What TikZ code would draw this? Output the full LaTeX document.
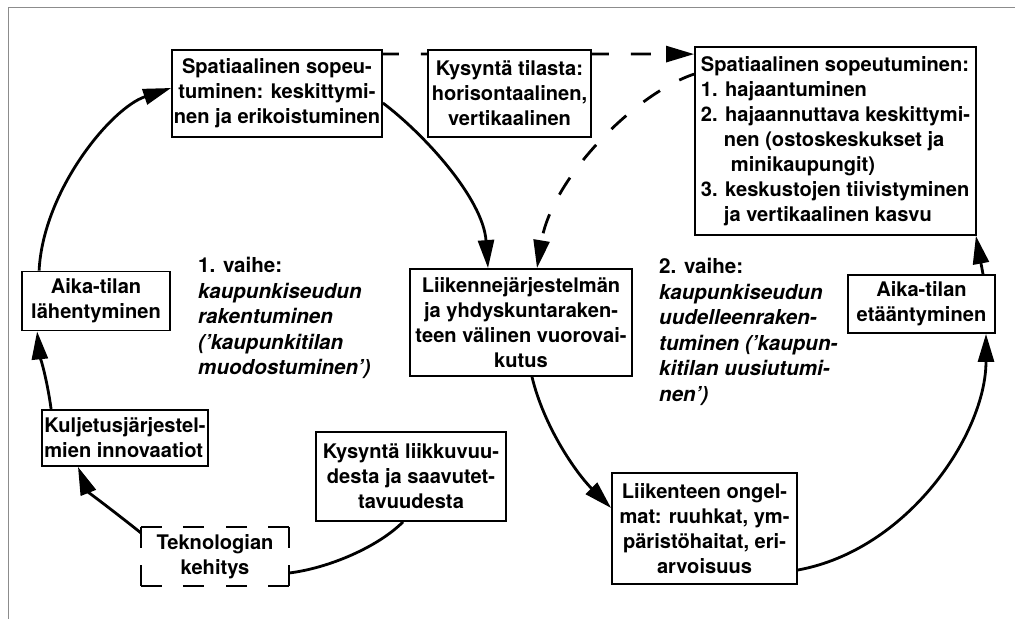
\documentclass[tikz,border=0pt]{standalone}
\usepackage{fontspec}
\newfontfamily\hv[Ligatures=TeX]{TeX Gyre Heros}
\usetikzlibrary{arrows.meta,backgrounds}
\begin{document}
\begin{tikzpicture}[x=1bp,y=-1bp,
  txt/.style={font=\hv\bfseries\fontsize{20.1bp}{25bp}\selectfont},
  box/.style={txt, draw, line width=1.8bp, fill=white, inner sep=0pt, align=center},
  plainbox/.style={txt, fill=white, inner sep=0pt, align=center},
  conn/.style={line width=2.8bp, -{Triangle[length=28bp,width=16bp]}},
  dconn/.style={conn, dash pattern=on 20bp off 22bp, dash phase=4bp},
  plainline/.style={line width=2.8bp},
  dbox/.style={line width=1.8bp, dash pattern=on 21bp off 21bp}
]
\useasboundingbox (0,0) rectangle (1015,619);
\draw[black!45, line width=1bp] (8,619) -- (8,8) -- (1015,8);

\node[box, minimum width=210bp, minimum height=87bp] (S1) at (277,93.5)
  {Spatiaalinen sopeu-\\tuminen: keskittymi-\\nen ja erikoistuminen};
\node[box, minimum width=163bp, minimum height=87bp] (K) at (509.5,93.5)
  {Kysyntä tilasta:\\horisontaalinen,\\vertikaalinen};
\node[box, align=left, minimum width=281bp, minimum height=188bp] (S2) at (835.5,141)
  {Spatiaalinen sopeutuminen:\\
   1. hajaantuminen\\
   2. hajaannuttava keskittymi-\\
   \hspace*{23bp}nen (ostoskeskukset ja\\
   \hspace*{30bp}minikaupungit)\\
   3. keskustojen tiivistyminen\\
   \hspace*{23bp}ja vertikaalinen kasvu};
\node[box, minimum width=148bp, minimum height=59bp] (AL) at (96,301)
  {Aika-tilan\\lähentyminen};
\node[box, minimum width=222bp, minimum height=107bp] (LS) at (521,322.5)
  {Liikennejärjestelmän\\ja yhdyskuntaraken-\\teen välinen vuorovai-\\kutus};
\node[box, minimum width=147bp, minimum height=58bp] (AE) at (921.5,304)
  {Aika-tilan\\etääntyminen};
\node[box, align=left, minimum width=166bp, minimum height=56bp] (KU) at (125,438)
  {Kuljetusjärjestel-\\mien innovaatiot};
\node[box, minimum width=190bp, minimum height=89bp] (KL) at (411,476.5)
  {Kysyntä liikkuvuu-\\desta ja saavutet-\\tavuudesta};
\node[plainbox, minimum width=148bp, minimum height=59bp] (TK) at (215,556.5)
  {Teknologian\\kehitys};
\node[box, minimum width=185bp, minimum height=111bp] (LO) at (704.5,528.5)
  {Liikenteen ongel-\\mat: ruuhkat, ym-\\päristöhaitat, eri-\\arvoisuus};

\draw[dbox] (TK.north west) -- (TK.north);
\draw[dbox] (TK.north east) -- (TK.north);
\draw[dbox] (TK.south west) -- (TK.south);
\draw[dbox] (TK.south east) -- (TK.south);
\draw[dbox] (TK.north west) -- (TK.west);
\draw[dbox] (TK.south west) -- (TK.west);
\draw[dbox] (TK.north east) -- (TK.east);
\draw[dbox] (TK.south east) -- (TK.east);

\node[txt, anchor=north west, inner sep=0pt, align=left,
      font=\hv\bfseries\fontsize{20.6bp}{25.5bp}\selectfont] (P1) at (198,257)
  {1. vaihe:\\\itshape kaupunkiseudun\\\itshape rakentuminen\\\itshape ('kaupunkitilan\\\itshape muodostuminen')};
\node[txt, anchor=north west, inner sep=0pt, align=left,
      font=\hv\bfseries\fontsize{20.6bp}{25.5bp}\selectfont] (P2) at (659,258)
  {2. vaihe:\\\itshape kaupunkiseudun\\\itshape uudelleenraken-\\\itshape tuminen ('kaupun-\\\itshape kitilan uusiutumi-\\\itshape nen')};

\begin{scope}[on background layer]
\draw[conn] ([xshift=18bp]AL.north west) .. controls +(4,-80) and +(-60,20) .. ([yshift=5.5bp]S1.west);
\draw[conn] ([yshift=-9.5bp]S1.east) .. controls +(40,30) and +(-5,-70) .. ([xshift=-33bp]LS.north);
\draw[dconn] ([yshift=-5bp]S1.north east) -- ([yshift=-8bp]S2.north west);
\draw[dconn] ([yshift=-28bp]S2.north west) .. controls +(-60,20) and +(15,-90) .. ([xshift=16bp]LS.north);
\draw[conn] ([xshift=11bp]LS.south) .. controls +(12,50) and +(-35,-35) .. ([yshift=20.5bp]LO.west);
\draw[conn] ([yshift=-41.5bp]LO.east) .. controls +(110,-20) and +(0,100) .. ([xshift=64.5bp]AE.south);
\draw[conn] ([xshift=61.5bp]AE.north) -- ([xshift=-1bp]S2.south east);
\draw[plainline] ([yshift=-16.5bp]TK.east) .. controls +(40,-5) and +(-25,25) .. ([xshift=-8bp]KL.south);
\draw[conn] ([yshift=-6bp]TK.north west) .. controls +(-25,-20) and +(10,25) .. ([xshift=-47bp]KU.south);
\draw[conn] ([xshift=10bp]KU.north west) .. controls +(-4,-30) and +(2,20) .. ([xshift=16bp]AL.south west);
\end{scope}
\end{tikzpicture}
\end{document}
